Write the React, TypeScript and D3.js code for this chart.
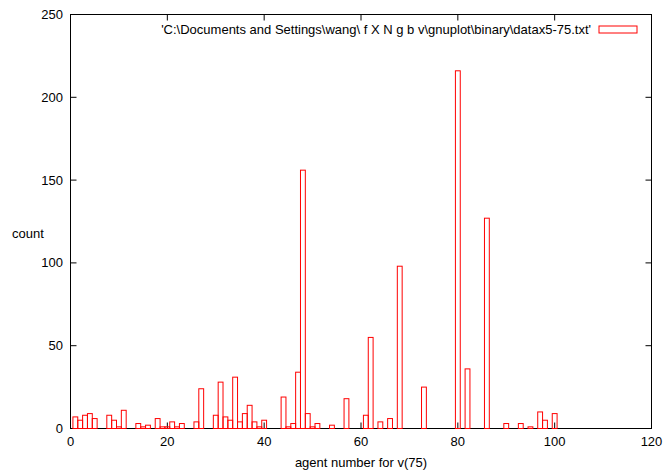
import React from "react";
import * as d3 from "d3";

const agents: number[] = Array.from({ length: 100 }, (_, i) => i + 1);
const counts: number[] = [
  7, 5, 8, 9, 6, 0, 0, 8, 5, 1,
  11, 0, 0, 3, 1, 2, 0, 6, 1, 1,
  4, 1, 3, 0, 0, 4, 24, 0, 0, 8,
  28, 7, 5, 31, 4, 9, 14, 4, 1, 5,
  0, 0, 0, 19, 1, 3, 34, 156, 9, 1,
  3, 0, 0, 2, 0, 0, 18, 0, 0, 0,
  8, 55, 0, 4, 0, 6, 0, 98, 0, 0,
  0, 0, 25, 0, 0, 0, 0, 0, 0, 216,
  0, 36, 0, 0, 0, 127, 0, 0, 0, 3,
  0, 0, 3, 0, 1, 0, 10, 5, 0, 9,
];
const xTicks: number[] = [0, 20, 40, 60, 80, 100, 120];
const yTicks: number[] = [0, 50, 100, 150, 200, 250];
const legendLabel = "'C:\\Documents and Settings\\wang\\ f X N g b v\\gnuplot\\binary\\datax5-75.txt'";
const xLabel = "agent number for v(75)";
const yLabel = "count";

export default function App() {
  const W = 667, H = 473;
  const x = d3.scaleLinear().domain([0, 120]).range([70.5, 651.5]);
  const y = d3.scaleLinear().domain([0, 250]).range([428.5, 14.5]);
  const font = "Liberation Sans, Arial, sans-serif";
  const fs = 13;
  const red = "#ff0000";
  const tl = 6;
  return (
    <svg width={W} height={H} style={{ position: "absolute", left: 0, top: 0, display: "block", background: "#fff" }}>
      {/* border */}
      <rect x={x(0)} y={y(250)} width={x(120) - x(0)} height={y(0) - y(250)} fill="none" stroke="#000" strokeWidth={1} />
      {/* ticks */}
      {xTicks.map((t) => (
        <g key={"xt" + t}>
          <line x1={x(t)} x2={x(t)} y1={y(0)} y2={y(0) - tl} stroke="#000" />
          <line x1={x(t)} x2={x(t)} y1={y(250)} y2={y(250) + tl} stroke="#000" />
          <text x={x(t)} y={446} textAnchor="middle" fontFamily={font} fontSize={fs} fill="#000">{t}</text>
        </g>
      ))}
      {yTicks.map((t) => (
        <g key={"yt" + t}>
          <line x1={x(0)} x2={x(0) + tl} y1={y(t)} y2={y(t)} stroke="#000" />
          <line x1={x(120)} x2={x(120) - tl} y1={y(t)} y2={y(t)} stroke="#000" />
          <text x={63} y={y(t) + 4.5} textAnchor="end" fontFamily={font} fontSize={fs} fill="#000">{t}</text>
        </g>
      ))}
      {/* bars */}
      {agents.map((a, i) => (
        <rect
          key={"b" + a}
          x={x(a - 0.5)}
          y={y(counts[i])}
          width={x(a + 0.5) - x(a - 0.5)}
          height={y(0) - y(counts[i])}
          fill="none"
          stroke={red}
          strokeWidth={1}
        />
      ))}
      {/* legend */}
      <text x={591} y={34} textAnchor="end" fontFamily={font} fontSize={fs} fill="#000">{legendLabel}</text>
      <rect x={599} y={26} width={38} height={7} fill="none" stroke={red} strokeWidth={1} />
      {/* axis labels */}
      <text x={361} y={467} textAnchor="middle" fontFamily={font} fontSize={fs} fill="#000">{xLabel}</text>
      <text x={28} y={238} textAnchor="middle" fontFamily={font} fontSize={fs} fill="#000">{yLabel}</text>
    </svg>
  );
}
